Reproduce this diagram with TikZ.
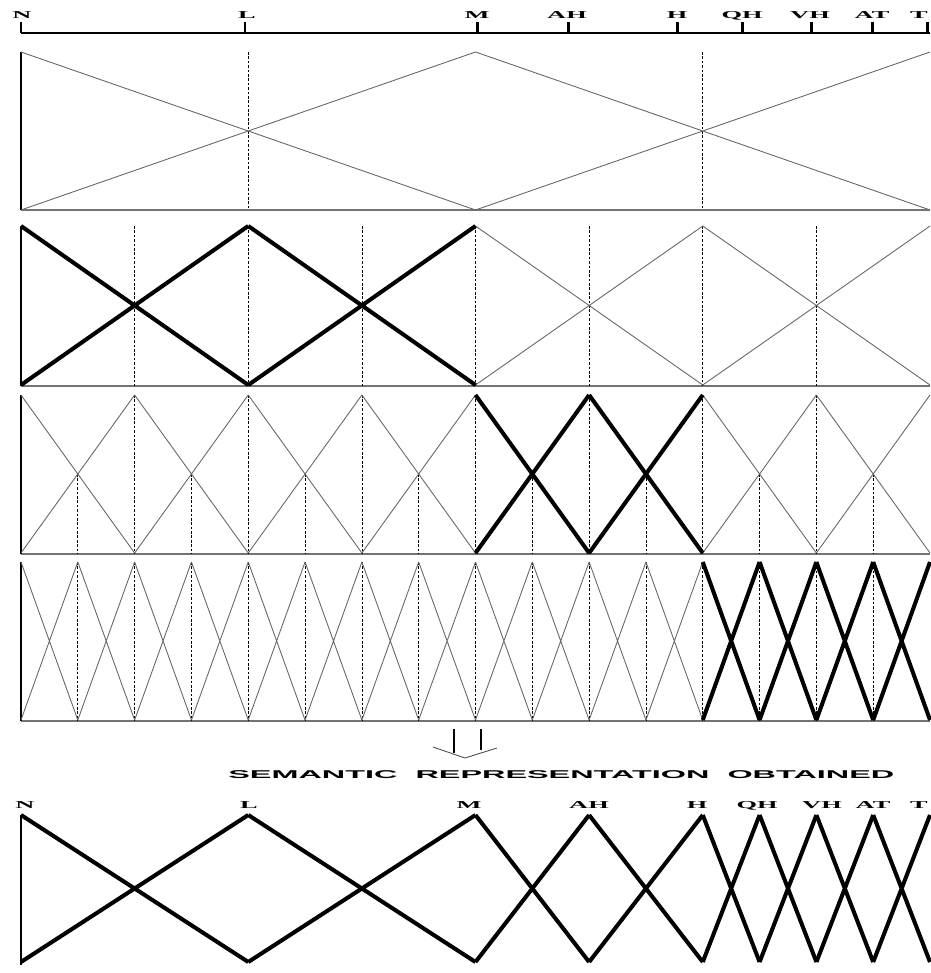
\documentclass[tikz,border=0pt]{standalone}
\usepackage{fontspec}
\usepackage{graphicx}
\setsansfont{Liberation Sans}
\newfontfamily\termfont[FakeStretch=2.5,BoldFeatures={FakeStretch=2.5}]{Liberation Serif}

\begin{document}
\begin{tikzpicture}[x=0.02cm,y=-0.02cm,
  thin mf/.style={line width=0.5pt,black!60},
  thick mf/.style={line width=2.3pt,black},
  guide/.style={line width=0.4pt,dash pattern=on 1.5pt off 1pt},
  base/.style={line width=1.1pt,black!55},
  term/.style={font={\fontsize{6}{7}\termfont\bfseries},inner sep=0pt,anchor=base}]
  \useasboundingbox (0,0) rectangle (930,973);

  % Universe axis with the term positions
  \draw[line width=1.1pt] (21,33) -- (930,33);
  \foreach \x/\l [count=\i] in {21/N,245/L,477/M,568/AH,677/H,742/QH,811/VH,872/AT,927/T}
     {\draw[line width=1.7pt] (\x,22) -- (\x,33);}
  \foreach \x/\l [count=\i] in {22/N,247/L,477/M,567/AH,677/H,742/QH,810/VH,872/AT,919/T}
     {\node[term] (ax\i) at (\x,19) {\l};}

  % Base lines and left edges of the four levels
  \foreach \yt/\yb in {52/210,226/386,395/554,562/721}
     {\draw[base] (21,\yb) -- (930,\yb); \draw[line width=1pt] (21,\yt) -- (21,\yb);}

  % Dotted guides
  \foreach \x in {248.25,702.75} \draw[guide] (\x,52) -- (\x,210);
  \foreach \k in {1,...,7} \draw[guide] (21+\k*113.625,226) -- (21+\k*113.625,386);
  \foreach \k in {1,...,7} \draw[guide] (21+\k*113.625,395) -- (21+\k*113.625,554);
  \foreach \k in {0,...,7} \draw[guide] (21+\k*113.625+56.8125,474) -- (21+\k*113.625+56.8125,554);
  \foreach \k in {1,...,15} \draw[guide] (21+\k*56.8125,562) -- (21+\k*56.8125,721);

  % Level 1 to 4 (thin)
  \foreach \yt/\yb/\n in {52/210/2,226/385/4,395/553/8,562/720/16}
     {\pgfmathsetmacro{\w}{909/\n}
      \pgfmathtruncatemacro{\last}{\n-1}
      \foreach \k in {0,...,\last}
         {\pgfmathsetmacro{\xa}{21+\k*\w}
          \pgfmathsetmacro{\xb}{21+(\k+1)*\w}
          \draw[thin mf] (\xa,\yt) -- (\xb,\yb) (\xa,\yb) -- (\xb,\yt);}}

  % Selected terms of each level (thick)
  \foreach \yt/\yb/\n/\lo/\hi in {226/385/4/0/1,395/553/8/4/5,562/720/16/12/15}
     {\pgfmathsetmacro{\w}{909/\n}
      \foreach \k in {\lo,...,\hi}
         {\pgfmathsetmacro{\xa}{21+\k*\w}
          \pgfmathsetmacro{\xb}{21+(\k+1)*\w}
          \draw[thick mf] (\xa,\yt) -- (\xb,\yb) (\xa,\yb) -- (\xb,\yt);}}

  % Arrow
  \draw[line width=0.6pt] (454,729) -- (454,753) (481,729) -- (481,750);
  \draw[line width=0.5pt,black!70] (433,747) -- (465,758) -- (497,748);
  \node[anchor=west,inner sep=0pt] (title) at (228,775)
     {\resizebox{379pt}{4.5pt}{\sffamily\bfseries SEMANTIC\ \ REPRESENTATION\ \ OBTAINED}};

  % Semantic representation
  \draw[line width=1pt] (21,815) -- (21,965);
  \foreach \xa/\xb in {21/248.25,248.25/475.5,475.5/589.1,589.1/702.75,702.75/759.6,759.6/816.4,816.4/873.2,873.2/930}
     \draw[thick mf] (\xa,815) -- (\xb,962) (\xa,962) -- (\xb,815);
  \foreach \x/\l [count=\i] in {25/N,249/L,469/M,589/AH,697/H,757/QH,822/VH,873/AT,919/T}
     \node[term] (sr\i) at (\x,808) {\l};
\end{tikzpicture}
\end{document}
